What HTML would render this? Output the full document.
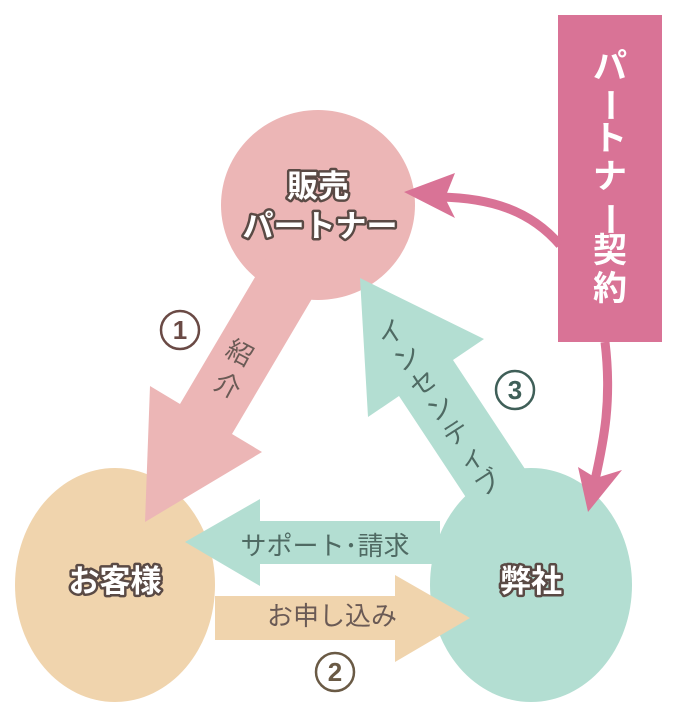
<!DOCTYPE html>
<html><head><meta charset="utf-8"><style>html,body{margin:0;padding:0;background:#fff}svg{display:block}</style></head>
<body>
<svg width="678" height="720" viewBox="0 0 678 720" xmlns="http://www.w3.org/2000/svg" font-family="'Liberation Sans','Noto Sans CJK JP',sans-serif">
<ellipse cx="318" cy="205" rx="97" ry="95" fill="#ecb6b6"/>
<ellipse cx="115" cy="585" rx="100" ry="117" fill="#f0d4ad"/>
<ellipse cx="531" cy="585" rx="101" ry="117" fill="#b3ded2"/>
<polygon points="326,275 232,434 262,452 145,522 150,386 180,404 274,245" fill="#ecb6b6"/>
<polygon points="527,472 453,360 484,339 360,278 368,417 399,396 473,508" fill="#b3ded2"/>
<polygon points="440,521 260,521 260,499 185,542 260,586 260,564 440,564" fill="#b3ded2"/>
<polygon points="215,596 395,596 395,575 470,618 395,662 395,640 215,640" fill="#f0d4ad"/>
<rect x="558" y="15" width="104" height="327" fill="#d97396"/>
<g fill="#fff" font-size="34" font-weight="bold" text-anchor="middle">
<text x="610" y="78">パ</text>
<text x="610" y="117" transform="rotate(90 610 105)">ー</text>
<text x="610" y="150">ト</text>
<text x="610" y="188">ナ</text>
<text x="610" y="231" transform="rotate(90 610 219)">ー</text>
<text x="610" y="262">契</text>
<text x="610" y="300">約</text>
</g>
<path d="M560,245 C530,210 490,198 440,197" fill="none" stroke="#d97396" stroke-width="9"/>
<polygon points="404,192 455,173 445,198 455,218" fill="#d97396"/>
<path d="M605,342 C612,400 604,440 595,480" fill="none" stroke="#d97396" stroke-width="9"/>
<polygon points="588,512 578,467 596,478 622,470" fill="#d97396"/>
<g fill="#fff" stroke="#5a4a45" stroke-width="5" paint-order="stroke" stroke-linejoin="round" font-size="31" font-weight="bold" text-anchor="middle">
<text x="318" y="197">販売</text>
<text x="320" y="237">パートナー</text>
<text x="115" y="592">お客様</text>
<text x="531" y="592">弊社</text>
</g>
<g fill="#6a5a55" font-size="26" text-anchor="middle">
<text x="240" y="362" transform="rotate(28 240 352)">紹</text>
<text x="228" y="395" transform="rotate(28 228 385)">介</text>
</g>
<g fill="#4f6a63" font-size="26" text-anchor="middle">
<text x="391" y="342" transform="rotate(-33 391 333)">イ</text>
<text x="407" y="367" transform="rotate(-33 407 358)">ン</text>
<text x="423" y="392" transform="rotate(-33 423 383)">セ</text>
<text x="440" y="417" transform="rotate(-33 440 408)">ン</text>
<text x="456" y="442" transform="rotate(-33 456 433)">テ</text>
<text x="472" y="467" transform="rotate(-33 472 458)">ィ</text>
<text x="488" y="492" transform="rotate(-33 488 483)">ブ</text>
<text x="325" y="555" font-size="26">サポート･請求</text>
</g>
<text x="332" y="625" fill="#6a5a55" font-size="26" text-anchor="middle">お申し込み</text>
<g fill="none" stroke-width="2.5">
<circle cx="180" cy="330" r="19" stroke="#6a4a45"/>
<circle cx="335" cy="672" r="19" stroke="#6a5a45"/>
<circle cx="515" cy="390" r="19" stroke="#3f5f58"/>
</g>
<g font-size="26" font-weight="bold" text-anchor="middle">
<text x="180" y="339" fill="#6a4a45">1</text>
<text x="335" y="681" fill="#6a5a45">2</text>
<text x="515" y="399" fill="#3f5f58">3</text>
</g>
</svg>
</body></html>
